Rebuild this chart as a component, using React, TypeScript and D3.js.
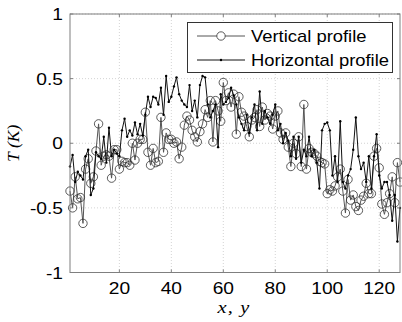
import React from "react";
import * as d3 from "d3";

const xTicks = [20, 40, 60, 80, 100, 120];
const yTicks = [-1, -0.5, 0, 0.5, 1];
const yTickLabels = ["-1", "-0.5", "0", "0.5", "1"];

const verticalProfile = [
  -0.37, -0.5, -0.26, -0.43, -0.42, -0.62, -0.2, -0.12, -0.31, -0.26,
  -0.06, 0.15, -0.17, -0.1, -0.09, -0.1, -0.27, -0.05, -0.05, -0.2,
  -0.14, -0.15, -0.15, -0.17, 0.0, -0.13, 0.0, 0.03, 0.03, 0.24,
  -0.07, -0.17, -0.04, -0.15, -0.14, 0.2, -0.07, 0.08, 0.03, 0.03,
  0.0, 0.01, -0.12, -0.03, 0.14, 0.21, 0.18, 0.1, 0.05, 0.01,
  0.09, 0.15, 0.26, 0.2, 0.33, 0.01, 0.33, 0.25, 0.17, 0.47,
  0.33, 0.39, 0.28, 0.38, 0.07, 0.36, 0.24, 0.21, 0.13, 0.05,
  0.18, 0.2, 0.26, 0.13, 0.28, 0.18, 0.23, 0.21, 0.11, 0.21,
  0.25, 0.08, 0.03, 0.08, -0.03, -0.18, 0.0, -0.08, 0.05, -0.18,
  0.3, -0.2, -0.04, -0.07, -0.08, -0.1, -0.14, -0.15, -0.16, -0.39,
  -0.36, -0.37, -0.33, -0.26, -0.2, -0.37, -0.54, -0.28, -0.44, -0.4,
  -0.49, -0.52, -0.44, -0.41, -0.31, -0.39, -0.39, -0.1, -0.04, -0.19,
  -0.47, -0.55, -0.46, -0.39, -0.26, -0.46, -0.15, -0.3,
];

const horizontalProfile = [
  -0.18, -0.09, -0.3, -0.22, -0.25, -0.28, -0.1, -0.05, -0.4, -0.35,
  -0.07, -0.1, -0.12, 0.05, -0.15, 0.12, -0.1, -0.05, -0.08, -0.1,
  0.1, 0.19, 0.05, 0.1, 0.06, 0.16, 0.07, 0.15, 0.06, 0.22,
  0.36, 0.28, 0.36, 0.35, 0.3, 0.43, 0.22, 0.52, 0.32, 0.36,
  0.44, 0.51, 0.38, 0.33, 0.3, 0.28, 0.45, 0.25, 0.33, 0.2,
  0.45, 0.52, 0.51, 0.3, 0.2, 0.25, 0.3, -0.03, 0.38, 0.3,
  0.32, 0.35, 0.43, 0.37, 0.3, 0.2, 0.15, 0.1, 0.22, 0.08,
  0.2, 0.3, 0.1, 0.4, 0.15, 0.25, 0.2, 0.15, 0.22, 0.3,
  0.1, 0.15, 0.0, 0.08, 0.02, -0.1, 0.05, -0.12, 0.05, -0.15,
  -0.05, -0.1, 0.05, -0.1, -0.05, -0.15, -0.35, 0.1, 0.15, 0.16,
  0.1, -0.25, -0.1, -0.3, 0.17, -0.3, -0.35, -0.25, -0.2, -0.05,
  0.2, -0.1, -0.2, -0.15, -0.3, -0.1, -0.35, -0.1, 0.07, -0.25,
  -0.35, -0.3, -0.3, -0.4, -0.6, -0.4, -0.76, -0.5,
];

const W = 402;
const H = 322;
const left = 70;
const right = 400;
const top = 14;
const bottom = 272.5;

const SANS = "'Liberation Sans', Arial, sans-serif";
const SERIF = "'Liberation Serif', 'Times New Roman', serif";

function SText(props: {
  x: number;
  y: number;
  anchor?: string;
  size: number;
  sx?: number;
  family?: string;
  italic?: boolean;
  rotate?: number;
  spacing?: number;
  children: React.ReactNode;
}) {
  const { x, y, anchor = "start", size, sx = 1.2, family = SANS, italic, rotate = 0, spacing = 0 } = props;
  return (
    <g transform={`translate(${x},${y}) rotate(${rotate}) scale(${sx},1)`}>
      <text
        x={0}
        y={0}
        textAnchor={anchor}
        fontFamily={family}
        fontStyle={italic ? "italic" : "normal"}
        fontSize={size}
        letterSpacing={spacing}
        fill="#000"
      >
        {props.children}
      </text>
    </g>
  );
}

export default function App() {
  const x = d3.scaleLinear().domain([1, 128]).range([left, right]);
  const y = d3.scaleLinear().domain([-1, 1]).range([bottom, top]);

  const vPts = verticalProfile.map((v, i) => [i + 1, v] as [number, number]);
  const hPts = horizontalProfile.map((v, i) => [i + 1, v] as [number, number]);
  const line = d3
    .line<[number, number]>()
    .x((d) => x(d[0]))
    .y((d) => y(d[1]));

  const axisColor = "#7f7f7f";

  return (
    <svg
      width={W}
      height={H}
      style={{ position: "absolute", left: 0, top: 0, background: "#fff" }}
    >
      <rect x={0} y={0} width={W} height={H} fill="#fff" />
      {xTicks.map((t) => (
        <line
          key={"gx" + t}
          x1={x(t)}
          x2={x(t)}
          y1={top}
          y2={bottom}
          stroke="#c8c8c8"
          strokeWidth={0.8}
          strokeDasharray="1,2"
        />
      ))}
      {yTicks.map((t) => (
        <line
          key={"gy" + t}
          x1={left}
          x2={right}
          y1={y(t)}
          y2={y(t)}
          stroke="#c8c8c8"
          strokeWidth={0.8}
          strokeDasharray="1,2"
        />
      ))}
      <path d={line(vPts) || ""} fill="none" stroke="#555" strokeWidth={1} />
      {vPts.map((d, i) => (
        <circle
          key={"vc" + i}
          cx={x(d[0])}
          cy={y(d[1])}
          r={4.2}
          fill="none"
          stroke="#333"
          strokeWidth={0.8}
        />
      ))}
      <path d={line(hPts) || ""} fill="none" stroke="#111" strokeWidth={1} />
      {hPts.map((d, i) => (
        <circle key={"hc" + i} cx={x(d[0])} cy={y(d[1])} r={1.2} fill="#000" />
      ))}
      <rect
        x={left}
        y={top}
        width={right - left}
        height={bottom - top}
        fill="none"
        stroke={axisColor}
        strokeWidth={1}
      />
      {xTicks.map((t) => (
        <g key={"xt" + t}>
          <line x1={x(t)} x2={x(t)} y1={bottom} y2={bottom - 3} stroke={axisColor} />
          <line x1={x(t)} x2={x(t)} y1={top} y2={top + 3} stroke={axisColor} />
          <SText x={x(t)} y={294} anchor="middle" size={16}>
            {t}
          </SText>
        </g>
      ))}
      {yTicks.map((t, i) => (
        <g key={"yt" + t}>
          <line x1={left} x2={left + 3} y1={y(t)} y2={y(t)} stroke={axisColor} />
          <line x1={right} x2={right - 3} y1={y(t)} y2={y(t)} stroke={axisColor} />
          <SText x={63} y={y(t) + 6} anchor="end" size={16}>
            {yTickLabels[i]}
          </SText>
        </g>
      ))}
      <SText x={234} y={313} anchor="middle" size={17} family={SERIF} italic spacing={1}>
        x, y
      </SText>
      <SText x={19} y={y(0)} anchor="middle" size={16} family={SERIF} italic rotate={-90} sx={1.1}>
        T (K)
      </SText>
      <rect x={187.5} y={22.5} width={205} height={50} fill="#fff" stroke="#333" strokeWidth={1} />
      <line x1={197} x2={245} y1={36} y2={36} stroke="#555" strokeWidth={1} />
      <circle cx={221} cy={36} r={4.2} fill="#fff" stroke="#333" strokeWidth={0.8} />
      <SText x={251} y={42} size={16} sx={1.15}>
        Vertical profile
      </SText>
      <line x1={197} x2={245} y1={60} y2={60} stroke="#111" strokeWidth={1} />
      <circle cx={221} cy={60} r={1.2} fill="#000" />
      <SText x={251} y={66} size={16} sx={1.15}>
        Horizontal profile
      </SText>
    </svg>
  );
}
